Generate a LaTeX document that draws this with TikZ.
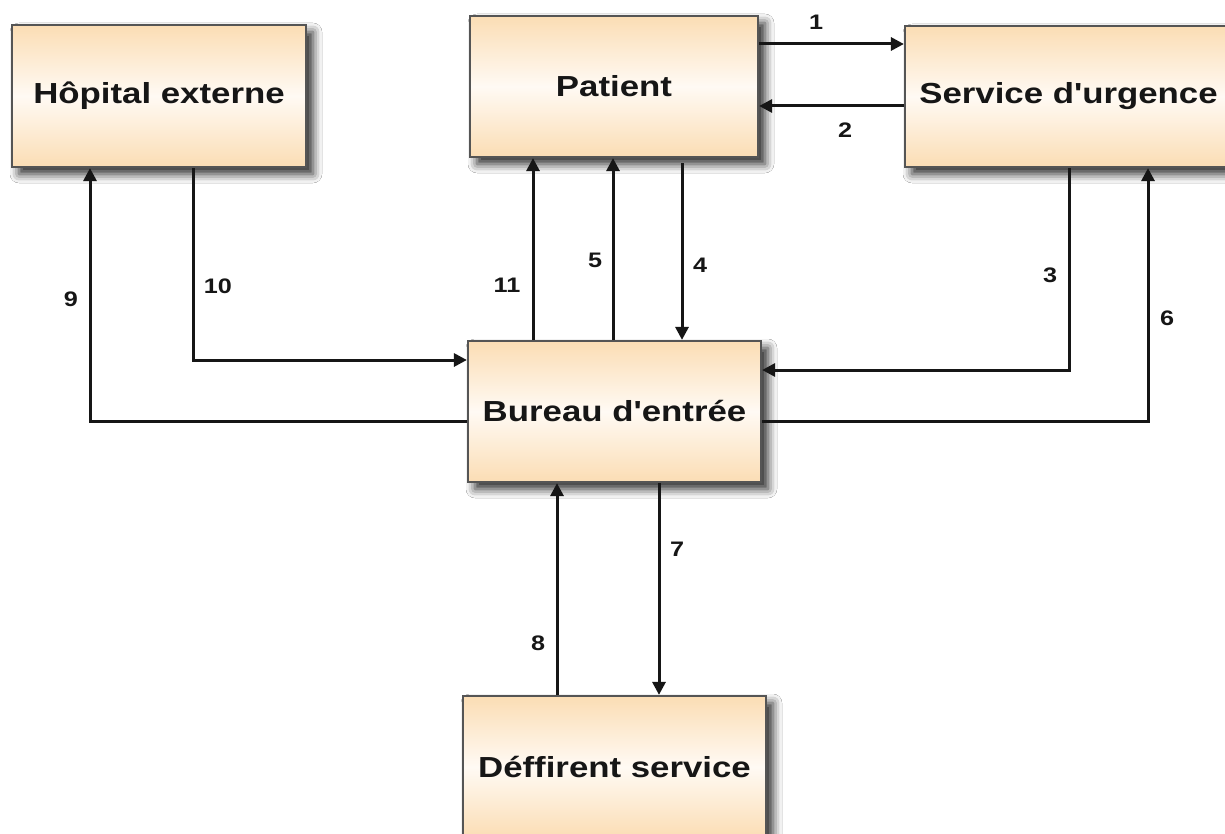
\documentclass[tikz,border=0pt]{standalone}
\usepackage{fontspec}
\setmainfont{Liberation Sans}[Ligatures=TeXOff]
\usepackage{graphicx}
\usetikzlibrary{arrows.meta,shadows.blur}

\definecolor{peach}{HTML}{FBDDB4}
\definecolor{cream}{HTML}{FFFAF4}
\definecolor{frame}{HTML}{555555}
\definecolor{ink}{HTML}{161616}

\newcommand{\boxtext}[1]{\scalebox{1.2}[1]{\fontsize{29}{34}\selectfont\bfseries #1}}
\newcommand{\numtext}[1]{\scalebox{1.2}[1]{\fontsize{21}{23}\selectfont\bfseries #1}}

\tikzset{
  block/.style={rectangle, draw=frame, line width=2.2pt, inner sep=0pt,
    top color=peach, bottom color=peach, middle color=cream,
    text=ink,
    blur shadow={shadow xshift=7pt, shadow yshift=-7pt, shadow blur radius=9pt, shadow opacity=85}},
  flow/.style={draw=ink, line width=3pt,
    -{Triangle[length=13pt,width=13pt]}},
  num/.style={text=ink, inner sep=0pt}
}

\begin{document}
\begin{tikzpicture}[x=1pt,y=-1pt]
  \fill[white] (0,0) rectangle (1225,834);
  \clip (0,0) rectangle (1225,834);

  % blocks
  \node[block, minimum width=294pt, minimum height=142pt] (hop) at (159,96) {\boxtext{Hôpital externe}};
  \node[block, minimum width=288pt, minimum height=141pt] (pat) at (614,86.5) {\boxtext{Patient}};
  \node[block, minimum width=327pt, minimum height=141pt] (urg) at (1068.5,96.5) {\boxtext{Service d'urgence}};
  \node[block, minimum width=293pt, minimum height=141pt] (bur) at (614.5,411.5) {\boxtext{Bureau d'entrée}};
  \node[block, minimum width=303pt, minimum height=142pt] (dif) at (614.5,767) {\boxtext{Déffirent service}};

  % connectors
  \draw[flow] (pat.east |- 0,44) -- (urg.west |- 0,44);
  \draw[flow] (urg.west |- 0,106) -- (pat.east |- 0,106);
  \draw[flow] (urg.south -| 1069,0) |- (bur.east |- 0,370);
  \draw[flow] (pat.south -| 682,0) [shorten <=5pt] -- (bur.north -| 682,0);
  \draw[flow] (bur.north -| 613,0) -- (pat.south -| 613,0);
  \draw[flow] (bur.east |- 0,421) -| (urg.south -| 1148,0);
  \draw[flow] (bur.south -| 659,0) -- (dif.north -| 659,0);
  \draw[flow] (dif.north -| 557,0) -- (bur.south -| 557,0);
  \draw[flow] (bur.west |- 0,421) -| (hop.south -| 90,0);
  \draw[flow] (hop.south -| 193,0) |- (bur.west |- 0,360);
  \draw[flow] (bur.north -| 533,0) -- (pat.south -| 533,0);

  % flow numbers
  \node[num] (n1) at (816,22) {\numtext{1}};
  \node[num] (n2) at (845,130) {\numtext{2}};
  \node[num] (n3) at (1050,275) {\numtext{3}};
  \node[num] (n4) at (700,265) {\numtext{4}};
  \node[num] (n5) at (595,260) {\numtext{5}};
  \node[num] (n6) at (1167,318) {\numtext{6}};
  \node[num] (n7) at (677,549) {\numtext{7}};
  \node[num] (n8) at (538,643) {\numtext{8}};
  \node[num] (n9) at (71,299) {\numtext{9}};
  \node[num] (n10) at (218,286) {\numtext{10}};
  \node[num] (n11) at (507,285) {\numtext{11}};
\end{tikzpicture}
\end{document}
